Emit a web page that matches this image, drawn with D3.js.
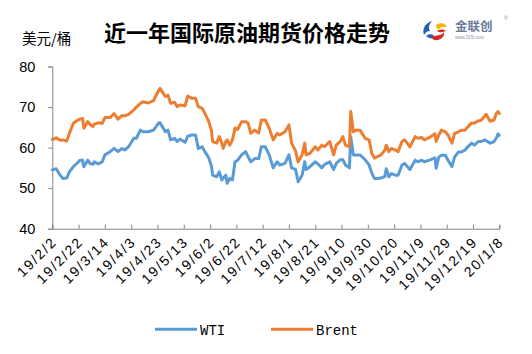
<!DOCTYPE html>
<html>
<head>
<meta charset="utf-8">
<script src="https://cdn.jsdelivr.net/npm/d3@7/dist/d3.min.js"></script>
<style>
  html, body { margin: 0; padding: 0; background: #fff; }
  svg { display: block; }
</style>
</head>
<body>
<script>
// ---- data ----
const dates = [
"2019-02-02","2019-02-05","2019-02-08","2019-02-10","2019-02-13","2019-02-15","2019-02-18","2019-02-21","2019-02-23","2019-02-25",
"2019-02-26","2019-03-01","2019-03-03","2019-03-05","2019-03-06","2019-03-09","2019-03-12","2019-03-14","2019-03-18","2019-03-21",
"2019-03-24","2019-03-27","2019-03-29","2019-04-01","2019-04-05","2019-04-07","2019-04-10","2019-04-12","2019-04-16","2019-04-20",
"2019-04-24","2019-04-25","2019-04-29","2019-05-01","2019-05-03","2019-05-06","2019-05-08","2019-05-10","2019-05-14","2019-05-16",
"2019-05-19","2019-05-22","2019-05-24","2019-05-27","2019-05-29","2019-06-01","2019-06-03","2019-06-04","2019-06-07","2019-06-09",
"2019-06-11","2019-06-12","2019-06-14","2019-06-15","2019-06-17","2019-06-19","2019-06-21","2019-06-23","2019-06-26","2019-06-29",
"2019-07-01","2019-07-03","2019-07-06","2019-07-09","2019-07-11","2019-07-14","2019-07-17","2019-07-20","2019-07-23","2019-07-25",
"2019-07-29","2019-08-01","2019-08-03","2019-08-06","2019-08-08","2019-08-11","2019-08-13","2019-08-14","2019-08-17","2019-08-21",
"2019-08-23","2019-08-26","2019-08-28","2019-09-01","2019-09-04","2019-09-06","2019-09-09","2019-09-11","2019-09-13","2019-09-16",
"2019-09-17","2019-09-19","2019-09-21","2019-09-24","2019-09-28","2019-10-01","2019-10-03","2019-10-05","2019-10-07","2019-10-10",
"2019-10-13","2019-10-14","2019-10-16","2019-10-18","2019-10-21","2019-10-23","2019-10-26","2019-10-28","2019-11-01","2019-11-05",
"2019-11-07","2019-11-10","2019-11-12","2019-11-16","2019-11-20","2019-11-21","2019-11-23","2019-11-25","2019-11-28","2019-11-30",
"2019-12-03","2019-12-05","2019-12-08","2019-12-10","2019-12-13","2019-12-15","2019-12-18","2019-12-20","2019-12-23","2019-12-25",
"2019-12-28","2019-12-29","2020-01-01","2020-01-04","2020-01-06","2020-01-07","2020-01-08"
];
const wti = [
54.5,54.8,53.2,52.4,52.5,54.0,55.3,56.2,56.9,56.9,
55.3,56.9,56.0,55.9,56.5,56.0,56.5,58.2,59.0,59.8,
59.0,59.8,59.4,60.2,62.3,62.3,64.3,63.9,63.9,64.3,
66.1,66.1,63.9,64.3,61.9,62.3,61.5,62.1,61.3,62.8,
63.1,63.1,59.8,60.2,59.0,57.5,55.5,53.2,52.8,54.0,
52.0,52.5,53.2,51.2,52.4,52.0,56.5,56.9,58.2,59.0,
57.7,56.5,57.3,57.3,60.2,60.2,58.2,55.0,56.5,55.7,
56.1,58.2,55.0,54.6,51.6,53.2,56.5,54.6,55.3,56.5,
56.0,55.0,55.8,56.5,54.6,56.1,57.0,57.0,55.7,55.0,
62.7,58.2,58.2,58.2,57.0,55.7,53.7,52.4,52.4,52.5,
52.9,54.8,52.8,53.6,53.2,53.2,55.7,56.1,54.6,56.9,
56.5,56.9,56.5,56.9,57.5,54.9,57.7,58.1,58.1,56.9,
55.3,57.7,58.9,58.9,59.4,60.2,61.1,60.6,61.5,61.5,
61.9,61.7,61.1,61.5,62.5,63.4,63.0
];
const brent = [
62.0,62.4,61.8,61.9,61.6,63.5,66.0,66.7,67.0,67.2,
64.8,66.4,65.6,65.2,65.8,66.1,66.0,67.4,67.4,68.4,
67.0,67.9,67.8,68.2,69.3,70.0,70.9,71.3,71.0,71.6,
74.2,74.6,72.6,72.9,70.9,71.2,70.1,70.5,70.3,72.7,
72.2,72.2,70.1,69.7,68.5,66.4,64.3,61.5,61.1,62.7,
61.0,59.8,61.5,61.9,60.6,61.9,64.8,64.5,66.4,66.4,
66.0,63.5,64.3,63.6,66.8,66.8,64.8,61.9,63.5,63.1,
63.9,65.6,61.1,59.2,56.5,58.2,61.1,58.2,58.6,60.2,
59.4,60.6,60.2,61.5,58.2,60.6,61.5,62.7,60.6,60.2,
68.9,63.9,64.3,64.3,62.3,61.9,58.6,57.4,57.7,58.2,
59.4,60.6,59.0,59.8,59.4,59.0,61.5,61.9,60.2,62.7,
62.3,62.5,61.9,62.5,63.4,61.5,63.1,64.3,63.9,63.1,
61.1,63.5,63.9,64.3,64.3,65.1,66.1,66.0,66.6,66.7,
67.8,68.2,66.5,66.8,68.6,68.9,68.4
];
const tickDates = ["2019-02-02","2019-02-22","2019-03-14","2019-04-03","2019-04-23","2019-05-13","2019-06-02","2019-06-22","2019-07-12","2019-08-01","2019-08-21","2019-09-10","2019-09-30","2019-10-20","2019-11-09","2019-11-29","2019-12-19","2020-01-08"];
const tickLabels = ["19/2/2","19/2/22","19/3/14","19/4/3","19/4/23","19/5/13","19/6/2","19/6/22","19/7/12","19/8/1","19/8/21","19/9/10","19/9/30","19/10/20","19/11/9","19/11/29","19/12/19","20/1/8"];
const yTicks = [40, 50, 60, 70, 80];
const seriesNames = ["WTI", "Brent"];
const seriesColors = ["#5B9BD5", "#ED7D31"];
const title = "近一年国际原油期货价格走势";
const unit = "美元/桶";

// ---- chart ----
const W = 532, H = 354;
const parse = d3.timeParse("%Y-%m-%d");
const svg = d3.select("body").append("svg").attr("width", W).attr("height", H);

const x = d3.scaleTime().domain([parse(tickDates[0]), parse(tickDates[tickDates.length - 1])]).range([52.3, 499.3]);
const y = d3.scaleLinear().domain([40, 80]).range([228.7, 66.5]);

const axisColor = "#868686";

// y axis
const yAxis = svg.append("g").attr("transform", "translate(52.3,0)")
  .call(d3.axisLeft(y).tickValues(yTicks).tickSize(4).tickPadding(13).tickFormat(d3.format("d")));
yAxis.select(".domain").attr("stroke", axisColor).attr("stroke-width", 1);
yAxis.selectAll(".tick line").attr("stroke", axisColor);
yAxis.selectAll(".tick text").attr("fill", "#000").style("font-family", "Liberation Sans, Arial, sans-serif").style("font-size", "14.5px");

// x axis
const xAxis = svg.append("g").attr("transform", "translate(0,228.7)")
  .call(d3.axisBottom(x).tickValues(tickDates.map(parse)).tickSize(-4).tickFormat((d, i) => tickLabels[i]));
xAxis.select(".domain").attr("stroke", axisColor).attr("stroke-width", 1);
xAxis.selectAll(".tick line").attr("stroke", axisColor);
xAxis.selectAll(".tick text")
  .attr("fill", "#000")
  .style("font-family", "Liberation Sans, Arial, sans-serif")
  .style("font-size", "14px")
  .style("letter-spacing", "1.8px")
  .attr("text-anchor", "end")
  .attr("dy", null).attr("y", null)
  .attr("transform", "translate(5,14) rotate(-45)");

// lines
const seriesData = [wti, brent];
const line = d3.line().x((d, i) => x(parse(dates[i]))).y(d => y(d));
seriesData.forEach((vals, k) => {
  svg.append("path").datum(vals)
    .attr("fill", "none")
    .attr("stroke", seriesColors[k])
    .attr("stroke-width", 3)
    .attr("stroke-linejoin", "round")
    .attr("stroke-linecap", "round")
    .attr("d", line);
});

// title & unit
svg.append("text").attr("x", 247).attr("y", 41).attr("text-anchor", "middle")
  .style("font-family", "Noto Sans CJK SC, sans-serif").style("font-weight", "bold").style("font-size", "22px")
  .attr("fill", "#000").text(title);
svg.append("text").attr("x", 22).attr("y", 44)
  .style("font-family", "Noto Sans CJK SC, sans-serif").style("font-size", "14.5px")
  .attr("fill", "#000").text(unit);

// legend
const legend = svg.append("g");
const legendItems = [{x1: 155, x2: 197, tx: 200}, {x1: 271, x2: 313, tx: 316}];
seriesNames.forEach((n, k) => {
  legend.append("line").attr("x1", legendItems[k].x1).attr("x2", legendItems[k].x2)
    .attr("y1", 329.3).attr("y2", 329.3).attr("stroke", seriesColors[k]).attr("stroke-width", 3);
  legend.append("text").attr("x", legendItems[k].tx).attr("y", 335)
    .style("font-family", "Liberation Mono, DejaVu Sans Mono, monospace").style("font-size", "14px")
    .attr("fill", "#000").text(n);
});

// logo
const logo = svg.append("g").attr("transform", "translate(422,19)");
logo.append("path").attr("d", "M10,2 C3,4 0,10 2,16 C3,14 5,12 8,12 C6,9 7,5 10,2 Z").attr("fill", "#1f5fb8");
logo.append("path").attr("d", "M4,17 C8,14 13,15 12,19 C10,20 6,19 4,17 Z").attr("fill", "#1f5fb8");
logo.append("path").attr("d", "M9,18 C14,16 20,17 22,13 C23,18 18,22 12,21 Z").attr("fill", "#d42a20");
logo.append("path").attr("d", "M14,6 C18,3 24,4 25,8 C22,7 18,8 16,11 C15,9 14,8 14,6 Z").attr("fill", "#f2b705");
logo.append("path").attr("d", "M15,12 C18,10 22,10 24,12 C21,13 18,14 15,12 Z").attr("fill", "#d42a20");
logo.append("text").attr("x", 33).attr("y", 12)
  .style("font-family", "Noto Sans CJK SC, sans-serif").style("font-size", "12.5px").style("font-weight", "bold")
  .attr("fill", "#6b7a99").text("金联创");
logo.append("text").attr("x", 33).attr("y", 19.5)
  .style("font-family", "Liberation Sans, sans-serif").style("font-size", "4.5px")
  .attr("fill", "#8a94a8").text("www.315i.com");
logo.append("text").attr("x", 82).attr("y", 1)
  .style("font-family", "Liberation Sans, sans-serif").style("font-size", "5px")
  .attr("fill", "#8a94a8").text("®");
</script>
</body>
</html>
